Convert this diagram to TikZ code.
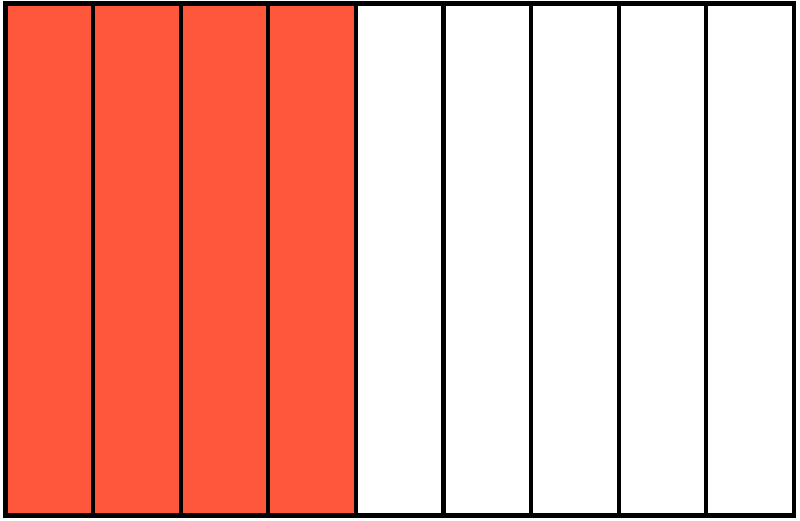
\documentclass[tikz,border=0pt]{standalone}
\definecolor{stripred}{RGB}{255,87,60}
\begin{document}
\begin{tikzpicture}[x=1pt,y=-1pt,
  strip/.style={draw=black,line width=4.2pt},
  filled/.style={strip,fill=stripred}]
\useasboundingbox (0,0) rectangle (800,521);
\foreach \i in {0,...,8}{
  \pgfmathsetmacro{\xa}{5.5+\i*87.61}
  \pgfmathsetmacro{\xb}{5.5+(\i+1)*87.61}
  \ifnum\i<4
    \path[fill=stripred] (\xa,3.5) rectangle (\xb,515.5);
  \fi
}
\foreach \i in {1,...,8}{
  \pgfmathsetmacro{\xa}{5.5+\i*87.61}
  \draw[strip] (\xa,3.5) -- (\xa,515.5);
}
\draw[strip] (5.5,3.5) rectangle (794,515.5);
\end{tikzpicture}
\end{document}
